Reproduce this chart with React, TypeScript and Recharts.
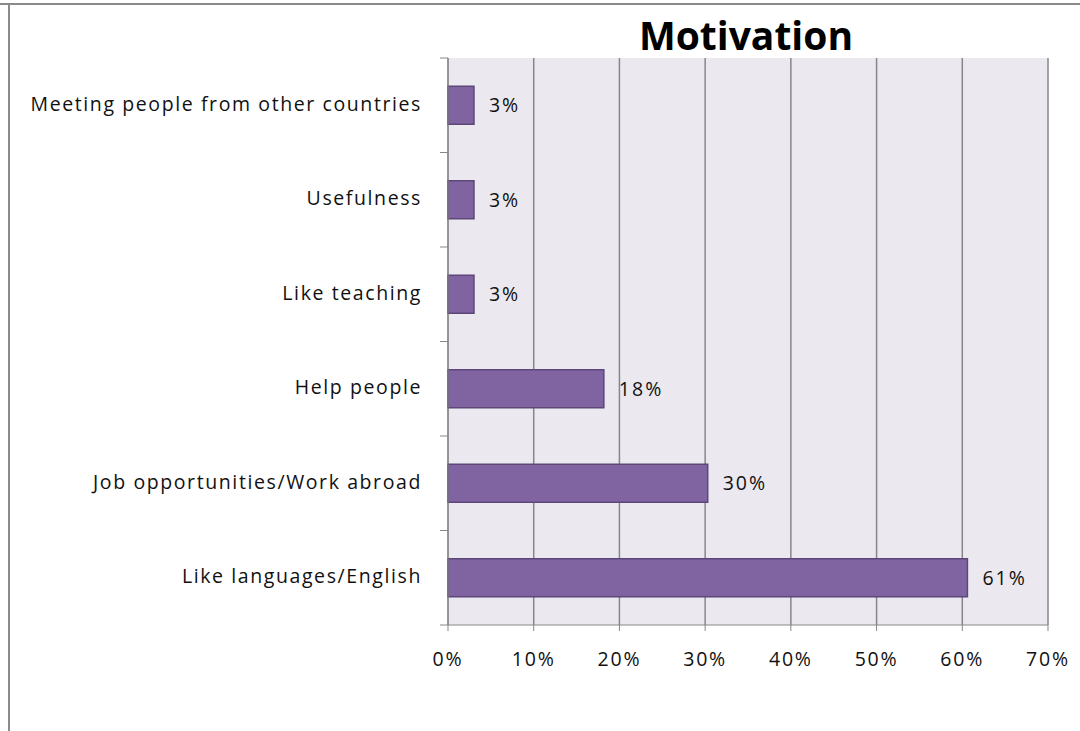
import { BarChart, Bar, XAxis, YAxis, CartesianGrid, LabelList } from "recharts"

// categories top to bottom, as in the picture
const categories = [
  "Meeting people from other countries",
  "Usefulness",
  "Like teaching",
  "Help people",
  "Job opportunities/Work abroad",
  "Like languages/English",
]
const shares = [3.03, 3.03, 3.03, 18.18, 30.3, 60.6]
const xTicks = [0, 10, 20, 30, 40, 50, 60, 70]

const data = categories.map((name, i) => ({ name, value: shares[i] }))

const FONT = "'Open Sans', Lato, sans-serif"
const GRID = "#878787"

// category label plus Excel-style tick marks on band boundaries
function CategoryTick(props: any) {
  const { x, y, payload, index } = props
  const half = payload.offset || 0
  const axisX = x + 27
  return (
    <g>
      <text
        x={x + 1}
        y={y - 2}
        textAnchor="end"
        dominantBaseline="central"
        fontSize={19.5}
        letterSpacing={1.6}
        fill="#111"
        fontFamily={FONT}
      >
        {payload.value}
      </text>
      {index === 0 && <line x1={axisX - 8} x2={axisX} y1={y - half} y2={y - half} stroke={GRID} />}
      <line x1={axisX - 8} x2={axisX} y1={y + half} y2={y + half} stroke={GRID} />
    </g>
  )
}

export default function App() {
  return (
    <div style={{ position: "absolute", left: 0, top: 0, width: 1080, height: 731, background: "#fff", overflow: "hidden" }}>
      <div style={{ position: "absolute", left: 0, top: 3, width: 1080, height: 2, background: "#8a8a8a" }} />
      <div style={{ position: "absolute", left: 8, top: 3, width: 2, height: 728, background: "#8a8a8a" }} />
      <div
        style={{
          position: "absolute",
          left: 448,
          width: 596,
          top: 11,
          textAlign: "center",
          fontFamily: FONT,
          fontWeight: 700,
          fontSize: 39,
          lineHeight: "48px",
          color: "#000",
        }}
      >
        Motivation
      </div>
      <BarChart
        width={1080}
        height={731}
        data={data}
        layout="vertical"
        margin={{ top: 58, right: 32, left: 8, bottom: 76 }}
        barCategoryGap="30%"
        style={{ position: "absolute", left: 0, top: 0 }}
      >
        <CartesianGrid horizontal={false} stroke={GRID} fill="#EBE9EF" strokeWidth={1.5} />
        <XAxis
          type="number"
          domain={[0, 70]}
          ticks={xTicks}
          interval={0}
          tickFormatter={(v) => `${v}%`}
          height={30}
          stroke={GRID}
          tickSize={6}
          tickMargin={21}
          tick={{ fontSize: 19.5, fill: "#111", fontFamily: FONT, letterSpacing: 1.8 }}
        />
        <YAxis
          type="category"
          dataKey="name"
          width={440}
          stroke={GRID}
          tickLine={false}
          tickSize={8}
          tickMargin={19}
          interval={0}
          tick={<CategoryTick />}
        />
        <Bar dataKey="value" fill="#8064A2" stroke="#5C4778" strokeWidth={1.5} isAnimationActive={false}>
          <LabelList
            dataKey="value"
            position="right"
            offset={15}
            formatter={(v: any) => `${Math.round(Number(v))}%`}
            style={{ fontSize: 19.5, fill: "#111", fontFamily: FONT, letterSpacing: 2 }}
          />
        </Bar>
      </BarChart>
    </div>
  )
}
